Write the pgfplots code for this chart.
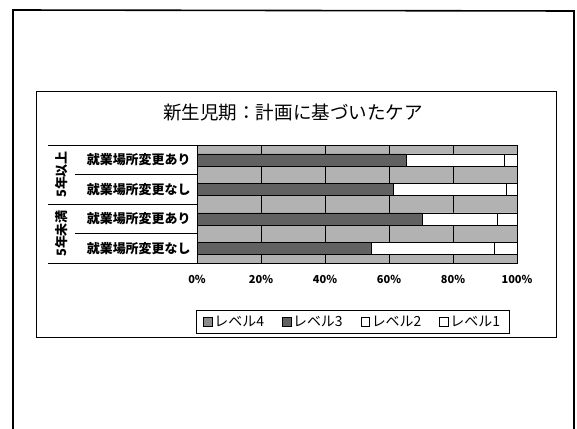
\documentclass[border=0pt]{standalone}
\usepackage{fontspec}
\setmainfont{Noto Sans CJK JP}
\usepackage{pgfplots}
\pgfplotsset{compat=1.18}
\pgfplotsset{
  sqleg/.style={legend image code/.code={\draw[##1,draw=black,line width=0.6bp] (0bp,-4bp) rectangle (8.5bp,4.5bp);}}
}
\begin{document}
\begin{tikzpicture}
\path[use as bounding box] (0,0) rectangle (577bp,-429bp);
\draw[line width=1.6bp] (13bp,-429bp) -- (13bp,-10bp) -- (574bp,-11bp) -- (574bp,-429bp);
\draw[line width=0.6bp] (36bp,-91bp) rectangle (556bp,-337bp);
\node[font=\fontsize{18.6}{20}\selectfont] at (293bp,-113bp) {新生児期：計画に基づいたケア};
\begin{axis}[
  at={(197bp,-145bp)}, anchor=north west,
  scale only axis, width=320bp, height=118bp,
  xbar stacked, bar width=12bp,
  xmin=0, xmax=100, ymin=-0.5, ymax=3.5,
  ytick={0,1,2,3},
  yticklabels={就業場所変更なし,就業場所変更あり,就業場所変更なし,就業場所変更あり},
  yticklabel style={font=\bfseries\fontsize{13}{15}\selectfont, xshift=-3bp},
  xtick={0,20,40,60,80,100},
  xticklabels={0\%,20\%,40\%,60\%,80\%,100\%},
  xticklabel style={font=\bfseries\fontsize{11}{13}\selectfont, yshift=-9bp},
  major tick length=0pt,
  xmajorgrids, grid style={black, line width=0.5bp},
  axis background/.style={fill=black!30},
  axis line style={black, line width=0.6bp},
  /pgf/number format/assume math mode=true,
  clip=false,
  legend columns=4,
  legend style={at={(-0.003,-0.40)}, anchor=north west, draw=black, line width=0.6bp,
    font=\fontsize{14}{16}\selectfont,
    /tikz/every even column/.append style={column sep=16bp},
    inner xsep=7bp, inner ysep=3.5bp},
]
\addplot[fill=black!45, draw=black, line width=0.5bp, sqleg] coordinates {(0,0) (0,1) (0,2) (0,3)};
\addplot[fill=black!62, draw=black, line width=0.5bp, sqleg] coordinates {(54.3,0) (70.5,1) (61.2,2) (65.3,3)};
\addplot[fill=white, draw=black, line width=0.5bp, sqleg] coordinates {(38.6,0) (23.3,1) (35.3,2) (30.6,3)};
\addplot[fill=white, draw=black, line width=0.5bp, sqleg] coordinates {(7.1,0) (6.2,1) (3.5,2) (4.1,3)};
\legend{レベル4,レベル3,レベル2,レベル1}
\draw[line width=0.6bp] ([xshift=-149bp]axis cs:0,3.5) -- (axis cs:0,3.5);
\draw[line width=0.6bp] ([xshift=-149bp]axis cs:0,1.5) -- (axis cs:0,1.5);
\draw[line width=0.6bp] ([xshift=-149bp]axis cs:0,-0.5) -- (axis cs:0,-0.5);
\draw[line width=0.6bp] ([xshift=-122bp]axis cs:0,2.5) -- (axis cs:0,2.5);
\draw[line width=0.6bp] ([xshift=-122bp]axis cs:0,0.5) -- (axis cs:0,0.5);
\node[rotate=90, font=\bfseries\fontsize{13}{15}\selectfont] at ([xshift=-135bp]axis cs:0,2.5) {5年以上};
\node[rotate=90, font=\bfseries\fontsize{13}{15}\selectfont] at ([xshift=-135bp]axis cs:0,0.5) {5年未満};
\end{axis}
\end{tikzpicture}
\end{document}
